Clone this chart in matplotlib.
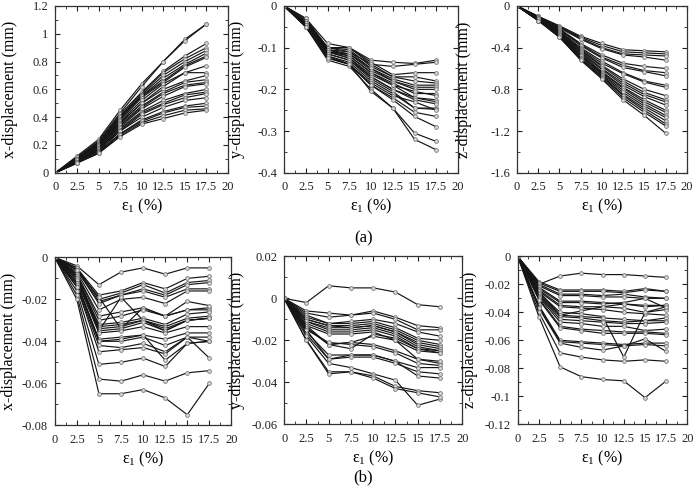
import matplotlib
matplotlib.use("Agg")
import matplotlib.pyplot as plt
from matplotlib.ticker import MultipleLocator, FuncFormatter

plt.rcParams['font.family'] = ['Liberation Serif', 'DejaVu Serif']
plt.rcParams['mathtext.fontset'] = 'custom'
plt.rcParams['mathtext.rm'] = 'Liberation Serif'
plt.rcParams['axes.unicode_minus'] = False

# axial strain (%)
strain = [0, 2.5, 5, 7.5, 10, 12.5, 15, 17.5]

# (a) displacements, mm
x_disp_a = [
    [0, 0.12, 0.24, 0.45, 0.64, 0.80, 0.96, 1.07],
    [0, 0.11, 0.23, 0.43, 0.62, 0.80, 0.95, 1.07],
    [0, 0.11, 0.22, 0.42, 0.58, 0.73, 0.84, 0.93],
    [0, 0.10, 0.22, 0.41, 0.57, 0.72, 0.82, 0.90],
    [0, 0.11, 0.21, 0.40, 0.56, 0.70, 0.80, 0.88],
    [0, 0.10, 0.21, 0.40, 0.55, 0.68, 0.78, 0.86],
    [0, 0.10, 0.20, 0.39, 0.55, 0.66, 0.77, 0.84],
    [0, 0.10, 0.20, 0.38, 0.54, 0.65, 0.76, 0.83],
    [0, 0.10, 0.20, 0.37, 0.52, 0.64, 0.72, 0.77],
    [0, 0.09, 0.19, 0.36, 0.50, 0.62, 0.72, 0.72],
    [0, 0.09, 0.19, 0.36, 0.50, 0.60, 0.66, 0.70],
    [0, 0.09, 0.18, 0.35, 0.48, 0.58, 0.65, 0.67],
    [0, 0.09, 0.18, 0.34, 0.47, 0.57, 0.63, 0.65],
    [0, 0.08, 0.18, 0.33, 0.46, 0.55, 0.62, 0.64],
    [0, 0.08, 0.17, 0.32, 0.44, 0.52, 0.57, 0.60],
    [0, 0.08, 0.17, 0.31, 0.43, 0.50, 0.56, 0.58],
    [0, 0.08, 0.16, 0.30, 0.42, 0.49, 0.54, 0.57],
    [0, 0.08, 0.16, 0.30, 0.40, 0.47, 0.52, 0.54],
    [0, 0.07, 0.15, 0.28, 0.38, 0.44, 0.48, 0.50],
    [0, 0.07, 0.15, 0.28, 0.37, 0.43, 0.47, 0.48],
    [0, 0.07, 0.14, 0.27, 0.36, 0.41, 0.45, 0.46],
    [0, 0.07, 0.14, 0.26, 0.35, 0.39, 0.43, 0.45],
]

y_disp_a = [
    [0, -0.030, -0.090, -0.100, -0.130, -0.135, -0.138, -0.130],
    [0, -0.030, -0.100, -0.100, -0.140, -0.145, -0.140, -0.135],
    [0, -0.035, -0.100, -0.100, -0.135, -0.165, -0.160, -0.160],
    [0, -0.040, -0.100, -0.110, -0.140, -0.170, -0.170, -0.180],
    [0, -0.035, -0.100, -0.105, -0.145, -0.170, -0.180, -0.185],
    [0, -0.040, -0.105, -0.110, -0.150, -0.175, -0.190, -0.190],
    [0, -0.040, -0.105, -0.115, -0.150, -0.180, -0.195, -0.195],
    [0, -0.040, -0.110, -0.115, -0.155, -0.180, -0.200, -0.200],
    [0, -0.045, -0.110, -0.120, -0.160, -0.185, -0.210, -0.210],
    [0, -0.040, -0.105, -0.120, -0.160, -0.190, -0.205, -0.215],
    [0, -0.045, -0.110, -0.125, -0.165, -0.190, -0.220, -0.225],
    [0, -0.045, -0.110, -0.125, -0.170, -0.200, -0.220, -0.230],
    [0, -0.045, -0.115, -0.130, -0.170, -0.200, -0.225, -0.235],
    [0, -0.045, -0.115, -0.130, -0.175, -0.205, -0.245, -0.245],
    [0, -0.050, -0.120, -0.135, -0.180, -0.210, -0.245, -0.248],
    [0, -0.050, -0.120, -0.140, -0.185, -0.215, -0.230, -0.250],
    [0, -0.050, -0.125, -0.140, -0.190, -0.220, -0.255, -0.265],
    [0, -0.050, -0.120, -0.140, -0.190, -0.225, -0.265, -0.290],
    [0, -0.050, -0.130, -0.145, -0.200, -0.245, -0.305, -0.325],
    [0, -0.050, -0.125, -0.140, -0.205, -0.245, -0.320, -0.345],
]

z_disp_a = [
    [0, -0.10, -0.19, -0.29, -0.36, -0.42, -0.43, -0.44],
    [0, -0.10, -0.20, -0.30, -0.38, -0.44, -0.45, -0.46],
    [0, -0.10, -0.20, -0.31, -0.40, -0.46, -0.47, -0.48],
    [0, -0.11, -0.21, -0.32, -0.41, -0.47, -0.49, -0.52],
    [0, -0.11, -0.22, -0.36, -0.47, -0.55, -0.58, -0.60],
    [0, -0.11, -0.22, -0.37, -0.49, -0.57, -0.62, -0.64],
    [0, -0.11, -0.23, -0.38, -0.50, -0.59, -0.63, -0.67],
    [0, -0.12, -0.24, -0.40, -0.53, -0.64, -0.72, -0.76],
    [0, -0.12, -0.24, -0.41, -0.55, -0.65, -0.73, -0.78],
    [0, -0.12, -0.25, -0.42, -0.57, -0.70, -0.80, -0.86],
    [0, -0.12, -0.25, -0.43, -0.58, -0.72, -0.83, -0.90],
    [0, -0.12, -0.26, -0.44, -0.60, -0.74, -0.85, -0.92],
    [0, -0.13, -0.26, -0.45, -0.61, -0.76, -0.87, -0.95],
    [0, -0.13, -0.27, -0.46, -0.63, -0.78, -0.90, -1.00],
    [0, -0.13, -0.27, -0.47, -0.64, -0.79, -0.92, -1.02],
    [0, -0.13, -0.28, -0.48, -0.65, -0.81, -0.94, -1.05],
    [0, -0.13, -0.28, -0.48, -0.66, -0.83, -0.96, -1.07],
    [0, -0.14, -0.29, -0.50, -0.67, -0.85, -0.98, -1.10],
    [0, -0.14, -0.29, -0.50, -0.68, -0.86, -1.00, -1.13],
    [0, -0.14, -0.30, -0.51, -0.69, -0.88, -1.02, -1.15],
    [0, -0.14, -0.30, -0.52, -0.70, -0.90, -1.05, -1.22],
]

# (b) displacements, mm
x_disp_b = [
    [0, -0.004, -0.013, -0.007, -0.005, -0.008, -0.005, -0.005],
    [0, -0.005, -0.018, -0.016, -0.012, -0.015, -0.010, -0.009],
    [0, -0.005, -0.020, -0.017, -0.013, -0.017, -0.012, -0.011],
    [0, -0.006, -0.021, -0.018, -0.015, -0.018, -0.013, -0.012],
    [0, -0.006, -0.022, -0.018, -0.016, -0.019, -0.015, -0.015],
    [0, -0.007, -0.025, -0.020, -0.019, -0.022, -0.016, -0.016],
    [0, -0.008, -0.035, -0.019, -0.030, -0.035, -0.030, -0.029],
    [0, -0.006, -0.019, -0.034, -0.024, -0.028, -0.025, -0.024],
    [0, -0.008, -0.028, -0.026, -0.024, -0.028, -0.021, -0.023],
    [0, -0.008, -0.030, -0.028, -0.025, -0.028, -0.025, -0.025],
    [0, -0.009, -0.032, -0.031, -0.029, -0.032, -0.027, -0.026],
    [0, -0.009, -0.033, -0.032, -0.030, -0.033, -0.029, -0.028],
    [0, -0.010, -0.034, -0.033, -0.030, -0.034, -0.030, -0.029],
    [0, -0.010, -0.035, -0.034, -0.031, -0.035, -0.030, -0.029],
    [0, -0.011, -0.036, -0.035, -0.033, -0.036, -0.033, -0.033],
    [0, -0.012, -0.039, -0.038, -0.037, -0.039, -0.036, -0.036],
    [0, -0.012, -0.040, -0.040, -0.038, -0.042, -0.038, -0.038],
    [0, -0.013, -0.040, -0.039, -0.037, -0.049, -0.041, -0.040],
    [0, -0.014, -0.042, -0.043, -0.041, -0.045, -0.038, -0.040],
    [0, -0.014, -0.045, -0.044, -0.043, -0.046, -0.038, -0.048],
    [0, -0.016, -0.051, -0.050, -0.048, -0.052, -0.041, -0.040],
    [0, -0.018, -0.058, -0.059, -0.056, -0.059, -0.055, -0.054],
    [0, -0.020, -0.065, -0.065, -0.063, -0.067, -0.075, -0.060],
]

y_disp_b = [
    [0, -0.002, 0.006, 0.005, 0.005, 0.003, -0.003, -0.004],
    [0, -0.006, -0.007, -0.008, -0.006, -0.009, -0.013, -0.014],
    [0, -0.007, -0.009, -0.008, -0.007, -0.010, -0.015, -0.015],
    [0, -0.008, -0.012, -0.011, -0.010, -0.012, -0.016, -0.018],
    [0, -0.009, -0.012, -0.012, -0.011, -0.014, -0.019, -0.020],
    [0, -0.010, -0.013, -0.013, -0.012, -0.015, -0.020, -0.022],
    [0, -0.010, -0.013, -0.014, -0.013, -0.016, -0.021, -0.023],
    [0, -0.011, -0.014, -0.014, -0.013, -0.016, -0.022, -0.024],
    [0, -0.011, -0.015, -0.015, -0.014, -0.017, -0.023, -0.025],
    [0, -0.012, -0.016, -0.016, -0.015, -0.018, -0.024, -0.025],
    [0, -0.013, -0.017, -0.017, -0.016, -0.020, -0.029, -0.031],
    [0, -0.013, -0.022, -0.024, -0.017, -0.019, -0.024, -0.026],
    [0, -0.014, -0.022, -0.021, -0.018, -0.020, -0.025, -0.026],
    [0, -0.014, -0.022, -0.021, -0.022, -0.025, -0.029, -0.030],
    [0, -0.015, -0.021, -0.022, -0.023, -0.026, -0.031, -0.032],
    [0, -0.016, -0.027, -0.027, -0.027, -0.030, -0.033, -0.033],
    [0, -0.015, -0.029, -0.027, -0.027, -0.030, -0.037, -0.038],
    [0, -0.017, -0.029, -0.028, -0.028, -0.031, -0.035, -0.036],
    [0, -0.018, -0.031, -0.033, -0.036, -0.039, -0.051, -0.048],
    [0, -0.020, -0.035, -0.035, -0.037, -0.042, -0.044, -0.045],
    [0, -0.020, -0.036, -0.035, -0.038, -0.043, -0.045, -0.047],
]

z_disp_b = [
    [0, -0.020, -0.014, -0.012, -0.013, -0.013, -0.014, -0.015],
    [0, -0.018, -0.024, -0.024, -0.024, -0.025, -0.023, -0.025],
    [0, -0.019, -0.025, -0.025, -0.025, -0.026, -0.024, -0.025],
    [0, -0.020, -0.027, -0.027, -0.028, -0.027, -0.029, -0.030],
    [0, -0.021, -0.028, -0.028, -0.029, -0.029, -0.030, -0.030],
    [0, -0.022, -0.032, -0.032, -0.033, -0.034, -0.035, -0.035],
    [0, -0.023, -0.033, -0.033, -0.034, -0.033, -0.030, -0.037],
    [0, -0.024, -0.035, -0.036, -0.036, -0.037, -0.040, -0.038],
    [0, -0.025, -0.036, -0.037, -0.038, -0.040, -0.041, -0.042],
    [0, -0.025, -0.042, -0.039, -0.036, -0.034, -0.036, -0.035],
    [0, -0.026, -0.040, -0.041, -0.043, -0.072, -0.040, -0.036],
    [0, -0.027, -0.042, -0.043, -0.044, -0.045, -0.046, -0.044],
    [0, -0.028, -0.043, -0.044, -0.046, -0.047, -0.046, -0.046],
    [0, -0.028, -0.045, -0.046, -0.047, -0.048, -0.048, -0.047],
    [0, -0.029, -0.047, -0.048, -0.050, -0.050, -0.053, -0.052],
    [0, -0.030, -0.050, -0.052, -0.053, -0.054, -0.054, -0.055],
    [0, -0.031, -0.051, -0.053, -0.055, -0.055, -0.055, -0.056],
    [0, -0.035, -0.060, -0.061, -0.062, -0.063, -0.062, -0.062],
    [0, -0.036, -0.061, -0.062, -0.063, -0.064, -0.063, -0.064],
    [0, -0.037, -0.062, -0.065, -0.067, -0.064, -0.059, -0.068],
    [0, -0.040, -0.069, -0.072, -0.074, -0.075, -0.074, -0.075],
    [0, -0.043, -0.079, -0.086, -0.088, -0.089, -0.101, -0.089],
]

x_ticks = [0, 2.5, 5, 7.5, 10, 12.5, 15, 17.5, 20]

series_sets = [x_disp_a, y_disp_a, z_disp_a, x_disp_b, y_disp_b, z_disp_b]
y_labels = ["x-displacement (mm)", "y-displacement (mm)", "z-displacement (mm)"] * 2
y_limits = [(0, 1.2), (-0.4, 0), (-1.6, 0), (-0.08, 0), (-0.06, 0.02), (-0.12, 0)]
y_steps = [0.2, 0.1, 0.4, 0.02, 0.02, 0.02]

# axes boxes in figure fraction, and ylabel offset in pixels from the left spine
boxes = [
    [0.080, 0.651, 0.249, 0.337],
    [0.410, 0.651, 0.251, 0.337],
    [0.746, 0.651, 0.245, 0.337],
    [0.079, 0.141, 0.255, 0.339],
    [0.410, 0.143, 0.257, 0.339],
    [0.747, 0.143, 0.245, 0.339],
]
label_off = [37, 39, 45, 38, 39, 40]

fmt = FuncFormatter(lambda v, p: "%g" % round(v, 6))

fig = plt.figure(figsize=(6.93, 4.95), dpi=100)

for data, ylab, ylim, step, rect, off in zip(series_sets, y_labels, y_limits,
                                             y_steps, boxes, label_off):
    ax = fig.add_axes(rect)
    for series in data:
        ax.plot(strain, series, color="#151515", lw=0.85,
                marker="o", ms=2.7, mfc="#d8d8d8", mec="#777777", mew=0.6)
    ax.set_xlim(0, 20)
    ax.set_ylim(*ylim)
    ax.set_xticks(x_ticks)
    ax.xaxis.set_major_formatter(fmt)
    ax.xaxis.set_minor_locator(MultipleLocator(1.25))
    ax.yaxis.set_major_locator(MultipleLocator(step))
    ax.yaxis.set_minor_locator(MultipleLocator(step / 2))
    ax.yaxis.set_major_formatter(fmt)
    ax.tick_params(which="both", direction="in", top=True, right=True,
                   labelsize=9, colors="#222222")
    ax.tick_params(which="major", length=3.5, width=0.8)
    ax.tick_params(axis="x", which="major", pad=6)
    ax.tick_params(axis="y", which="major", pad=5)
    ax.tick_params(which="minor", length=2, width=0.6)
    for s in ax.spines.values():
        s.set_linewidth(0.9)
        s.set_color("#333333")
    ax.set_ylabel(ylab, fontsize=11.5)
    ax.yaxis.set_label_coords(-off / (rect[2] * 693), 0.5)
    ax.set_xlabel("ε$_{1}$ (%)", fontsize=11.5, labelpad=3)

fig.text(0.524, 0.519, "(a)", ha="center", va="center", fontsize=12)
fig.text(0.524, 0.036, "(b)", ha="center", va="center", fontsize=12)

fig.savefig("out.png", dpi=100)
